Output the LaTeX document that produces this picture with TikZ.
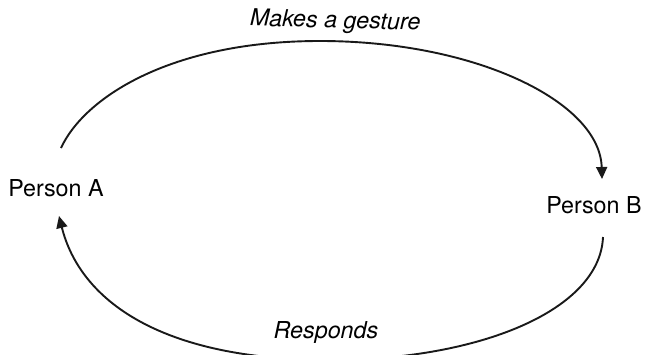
\documentclass[tikz,border=0pt]{standalone}
\usepackage{fontspec}
\setmainfont{TeX Gyre Heros}
\usetikzlibrary{arrows.meta}
\begin{document}
\begin{tikzpicture}[x=1pt,y=-1pt,
  lbl/.style={inner sep=0pt,font=\fontsize{23.3}{27}\selectfont},
  elbl/.style={lbl,font=\fontsize{23.3}{27}\selectfont\itshape},
  flow/.style={line width=1.9pt,color=black!90,-{Triangle[length=12pt,width=11pt]}}]
\useasboundingbox (0,0) rectangle (645,354);
\node[lbl,anchor=base] (pa) at (56,196) {Person A};
\node[lbl,anchor=base] (pb) at (594,213) {Person B};
\node[elbl,anchor=base,rotate=-1.5] (gest) at (335,28) {Makes a gesture};
\node[elbl,anchor=base] (resp) at (326,338) {Responds};
\coordinate (gs) at (61,148);
\coordinate (gtop) at (320,41);
\coordinate (ge) at (602,179);
\coordinate (rs) at (603,237);
\coordinate (rbot) at (330,360);
\coordinate (re) at (59,216);
\draw[flow] (gs) .. controls (84,98) and (170,41) .. (gtop)
  .. controls (476,41) and (600,102) .. (ge);
\draw[flow] (rs) .. controls (600,310) and (480,360) .. (rbot)
  .. controls (160,360) and (80,300) .. (re);
\end{tikzpicture}
\end{document}
